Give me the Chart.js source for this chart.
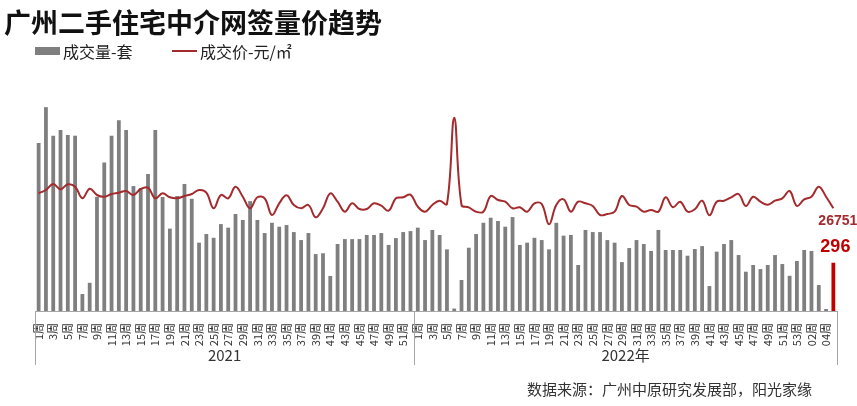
<!DOCTYPE html>
<html>
<head>
<meta charset="utf-8">
<script src="https://cdn.jsdelivr.net/npm/chart.js@4.4.0/dist/chart.umd.min.js"></script>
<style>
  html, body { margin: 0; padding: 0; background: #fff; }
</style>
</head>
<body>
<canvas id="c" width="857" height="406"></canvas>
<script>
const titleText = '广州二手住宅中介网签量价趋势';
const volumeName = '成交量-套';
const priceName = '成交价-元/㎡';
const sourceText = '数据来源：广州中原研究发展部，阳光家缘';
const groupLabels = ['2021', '2022年'];

const weeks2021 = ['1周','2周','3周','4周','5周','6周','7周','8周','9周','10周','11周','12周','13周',
  '14周','15周','16周','17周','18周','19周','20周','21周','22周','23周','24周','25周','26周',
  '27周','28周','29周','30周','31周','32周','33周','34周','35周','36周','37周','38周','39周',
  '40周','41周','42周','43周','44周','45周','46周','47周','48周','49周','50周','51周','52周'];
const weeks2022 = ['1周','2周','3周','4周','5周','6周','7周','8周','9周','10周','11周','12周','13周',
  '14周','15周','16周','17周','18周','19周','20周','21周','22周','23周','24周','25周','26周',
  '27周','28周','29周','30周','31周','32周','33周','34周','35周','36周','37周','38周','39周',
  '40周','41周','42周','43周','44周','45周','46周','47周','48周','49周','50周','51周','52周','53周',
  '01周','02周','03周','04周','05周'];

// 成交量（套）
const volume = [1030,1250,1075,1110,1080,1075,104,173,700,910,1075,1170,1110,766,754,840,1110,699,505,705,
  779,688,419,472,449,533,511,595,558,674,558,478,541,517,527,484,435,478,349,354,215,411,441,441,441,466,
  466,478,405,447,484,490,
  511,435,497,466,378,15,190,388,472,541,572,552,517,576,405,419,449,435,378,541,462,466,282,497,484,484,
  435,419,300,386,435,411,368,497,374,374,374,339,380,398,153,364,411,435,343,241,282,257,282,343,288,216,
  307,374,368,159,12,296];

// 成交价（元/㎡）
const price = [28250,28580,29180,28650,29150,28910,27750,28710,28080,27910,28180,28310,28480,28080,28680,
  28810,27750,28250,27850,27750,27980,28180,28580,28310,26750,28080,27750,28910,27910,26750,27850,27750,
  26080,27250,28050,27080,26750,27080,25850,26750,28250,27410,26410,27250,26680,26680,27250,27010,26510,
  27750,27850,28110,
  26910,26410,27080,27510,27180,35810,27080,26850,26410,26410,27980,27580,27410,26750,26850,26410,27250,
  27180,25150,27080,27650,26410,27410,27250,26980,26080,26180,26410,27980,27080,26910,26410,26580,26410,
  27850,26850,27410,26410,26650,27510,26050,27410,27510,27850,28180,26980,27910,27410,27110,27510,27750,
  28480,26980,27650,27910,28910,27910,26751];

const labels = weeks2021.concat(weeks2022);
const barGray = '#7f7f7f';
const barRed = '#c00000';
const lineRed = '#a32a2d';
const barColors = volume.map((v, i) => i === volume.length - 1 ? barRed : barGray);

const decor = {
  id: 'decor',
  afterDraw(chart) {
    const { ctx } = chart;
    const x = chart.scales.x, y = chart.scales.y, y2 = chart.scales.y2;
    ctx.save();
    ctx.textBaseline = 'middle';

    // 标题
    ctx.fillStyle = '#111';
    ctx.font = 'bold 27px "Noto Sans CJK SC"';
    ctx.fillText(titleText, 4, 23);

    // 图例
    ctx.fillStyle = barGray;
    ctx.fillRect(35, 47, 25, 8);
    ctx.fillStyle = '#222';
    ctx.font = '16px "Noto Sans CJK SC"';
    ctx.fillText(volumeName, 63, 52);
    ctx.strokeStyle = lineRed;
    ctx.lineWidth = 2;
    ctx.beginPath();
    ctx.moveTo(172, 51);
    ctx.lineTo(197, 51);
    ctx.stroke();
    ctx.fillText(priceName, 200, 52);

    // 年份分组线
    const step = x.getPixelForValue(1) - x.getPixelForValue(0);
    const split = x.getPixelForValue(weeks2021.length) - step / 2;
    ctx.strokeStyle = '#a6a6a6';
    ctx.lineWidth = 1;
    [x.left, split, x.right].forEach(px => {
      ctx.beginPath();
      ctx.moveTo(Math.round(px) + 0.5, x.top);
      ctx.lineTo(Math.round(px) + 0.5, 365);
      ctx.stroke();
    });
    ctx.fillStyle = '#333';
    ctx.font = '15px "Noto Sans CJK SC"';
    ctx.textAlign = 'center';
    ctx.fillText(groupLabels[0], (x.left + split) / 2, 355);
    ctx.fillText(groupLabels[1], (split + x.right) / 2, 355);

    // 最新值
    const last = volume.length - 1;
    const px = x.getPixelForValue(last);
    ctx.textAlign = 'left';
    ctx.fillStyle = lineRed;
    ctx.font = 'bold 14px "Liberation Sans"';
    ctx.fillText(String(price[last]), px - 15, y2.getPixelForValue(price[last]) + 13);
    ctx.fillStyle = barRed;
    ctx.font = 'bold 18px "Liberation Sans"';
    ctx.fillText(String(volume[last]), px - 13, y.getPixelForValue(volume[last]) - 16);

    // 数据来源
    ctx.fillStyle = '#333';
    ctx.font = '15px "Noto Sans CJK SC"';
    ctx.fillText(sourceText, 527, 389);
    ctx.restore();
  }
};

new Chart(document.getElementById('c'), {
  data: {
    labels: labels,
    datasets: [
      {
        type: 'line',
        label: priceName,
        data: price,
        yAxisID: 'y2',
        borderColor: lineRed,
        borderWidth: 2,
        pointRadius: 0,
        tension: 0.4,
        order: 0
      },
      {
        type: 'bar',
        label: volumeName,
        data: volume,
        yAxisID: 'y',
        backgroundColor: barColors,
        barPercentage: 0.52,
        categoryPercentage: 1,
        order: 1
      }
    ]
  },
  options: {
    responsive: false,
    devicePixelRatio: 1,
    animation: false,
    layout: { padding: { left: 35, right: 20, top: 99, bottom: 55 } },
    plugins: {
      legend: { display: false },
      title: { display: false },
      tooltip: { enabled: false }
    },
    scales: {
      x: {
        grid: { display: false },
        border: { display: true, color: '#a6a6a6', width: 1 },
        ticks: {
          autoSkip: false,
          minRotation: 90,
          maxRotation: 90,
          padding: 4,
          color: '#333',
          font: { size: 11, family: '"Noto Sans CJK SC"' },
          callback: (v, i) => (i % 2 === 0 ? labels[i] : '')
        },
        afterFit: s => { s.height = 40; }
      },
      y: { display: false, min: 0, max: 1300 },
      y2: { display: false, min: 16480, max: 37680 }
    }
  },
  plugins: [decor]
});
</script>
</body>
</html>
